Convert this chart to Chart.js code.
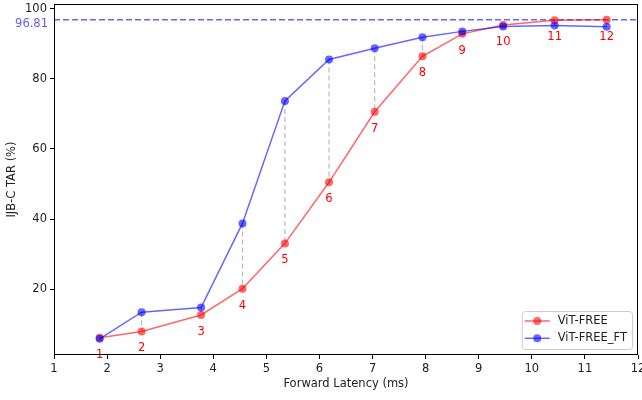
<!DOCTYPE html>
<html>
<head>
<meta charset="utf-8">
<script src="https://cdn.jsdelivr.net/npm/chart.js@4.4.1/dist/chart.umd.min.js"></script>
<style>
  html, body { margin: 0; padding: 0; background: #fff; }
</style>
</head>
<body>
<canvas id="latencyChart" width="642" height="400"></canvas>
<script>
// forward latency (ms) of each pruning level
const latency = [1.86, 2.65, 3.77, 4.55, 5.35, 6.18, 7.04, 7.94, 8.69, 9.46, 10.43, 11.41];
const vitFree = [6.2, 8.0, 12.7, 20.2, 33.1, 50.5, 70.6, 86.4, 92.8, 95.3, 96.7, 96.8];
const vitFreeFt = [5.9, 13.5, 14.8, 38.8, 73.7, 85.5, 88.7, 91.8, 93.5, 94.9, 95.2, 94.8];
const levelLabels = ['1', '2', '3', '4', '5', '6', '7', '8', '9', '10', '11', '12'];
const seriesNames = ['ViT-FREE', 'ViT-FREE_FT'];
const xTickValues = [1, 2, 3, 4, 5, 6, 7, 8, 9, 10, 11, 12];
const yTickValues = [20, 40, 60, 80, 100];
const baselineTar = 96.81;

const RED = 'rgba(255, 0, 0, 0.6)';
const BLUE = 'rgba(0, 0, 255, 0.6)';
const FONT = '11.5px "DejaVu Sans"';

Chart.defaults.font.family = '"DejaVu Sans"';
Chart.defaults.font.size = 11.5;
Chart.defaults.color = '#222';

const overlay = {
  id: 'overlay',
  beforeDatasetsDraw(chart) {
    const { ctx, chartArea: a, scales: { x, y } } = chart;
    ctx.save();
    // grey dashed gap between the two curves
    ctx.strokeStyle = 'rgba(140, 140, 140, 0.6)';
    ctx.lineWidth = 1.2;
    ctx.setLineDash([5, 3]);
    latency.forEach((v, i) => {
      const px = x.getPixelForValue(v);
      ctx.beginPath();
      ctx.moveTo(px, y.getPixelForValue(vitFreeFt[i]));
      ctx.lineTo(px, y.getPixelForValue(vitFree[i]));
      ctx.stroke();
    });
    // baseline TAR
    const by = y.getPixelForValue(baselineTar);
    ctx.strokeStyle = 'rgba(0, 0, 255, 0.6)';
    ctx.lineWidth = 1.5;
    ctx.setLineDash([6, 3]);
    ctx.beginPath();
    ctx.moveTo(a.left, by);
    ctx.lineTo(a.right, by);
    ctx.stroke();
    ctx.restore();
  },
  afterDatasetsDraw(chart) {
    const { ctx, scales: { x, y } } = chart;
    ctx.save();
    ctx.font = FONT;
    ctx.fillStyle = 'red';
    ctx.textAlign = 'center';
    ctx.textBaseline = 'middle';
    latency.forEach((v, i) => {
      ctx.fillText(levelLabels[i], x.getPixelForValue(v), y.getPixelForValue(vitFree[i]) + 17);
    });
    ctx.restore();
  },
  afterDraw(chart) {
    const { ctx, chartArea: a, scales: { y } } = chart;
    ctx.save();
    // axes frame
    ctx.strokeStyle = '#000';
    ctx.lineWidth = 1;
    ctx.strokeRect(a.left + 0.5, a.top + 0.5, a.right - a.left - 1, a.bottom - a.top - 1);

    // baseline value next to the y axis
    ctx.font = FONT;
    ctx.fillStyle = 'rgba(0, 0, 255, 0.65)';
    ctx.textAlign = 'right';
    ctx.textBaseline = 'middle';
    ctx.fillText(String(baselineTar), a.left - 6, y.getPixelForValue(baselineTar) + 4);

    // legend, lower right
    const widths = seriesNames.map(n => ctx.measureText(n).width);
    const w = 36 + Math.max(...widths) + 5;
    const h = 38;
    const bx = a.right - 6 - w;
    const by = a.bottom - 6 - h;
    ctx.fillStyle = 'rgba(255, 255, 255, 0.8)';
    ctx.strokeStyle = 'rgba(200, 200, 200, 0.9)';
    ctx.beginPath();
    ctx.roundRect(bx + 0.5, by + 0.5, w, h, 3);
    ctx.fill();
    ctx.stroke();
    chart.data.datasets.forEach((ds, i) => {
      const ry = by + 10 + i * 17.3;
      ctx.strokeStyle = ds.borderColor;
      ctx.lineWidth = 1.5;
      ctx.beginPath();
      ctx.moveTo(bx + 3, ry);
      ctx.lineTo(bx + 28, ry);
      ctx.stroke();
      ctx.fillStyle = ds.pointBackgroundColor;
      ctx.beginPath();
      ctx.arc(bx + 15.5, ry, 4, 0, Math.PI * 2);
      ctx.fill();
      ctx.fillStyle = '#222';
      ctx.textAlign = 'left';
      ctx.fillText(ds.label, bx + 36, ry);
    });
    ctx.restore();
  }
};

const points = ys => latency.map((v, i) => ({ x: v, y: ys[i] }));

new Chart(document.getElementById('latencyChart'), {
  type: 'line',
  data: {
    datasets: [
      {
        label: seriesNames[0],
        data: points(vitFree),
        borderColor: RED,
        backgroundColor: RED,
        pointBackgroundColor: RED,
        borderWidth: 1.5,
        pointRadius: 4,
        pointBorderWidth: 0,
        order: 1,
      },
      {
        label: seriesNames[1],
        data: points(vitFreeFt),
        borderColor: BLUE,
        backgroundColor: BLUE,
        pointBackgroundColor: BLUE,
        borderWidth: 1.5,
        pointRadius: 4,
        pointBorderWidth: 0,
        order: 0, // blue on top
      },
    ],
  },
  options: {
    responsive: false,
    animation: false,
    layout: { padding: { top: 2, right: 4, left: 0, bottom: 0 } },
    scales: {
      x: {
        type: 'linear',
        min: 1,
        max: 12,
        ticks: { padding: 3, color: '#222', maxRotation: 0 },
        afterBuildTicks: s => { s.ticks = xTickValues.map(v => ({ value: v })); },
        grid: { drawOnChartArea: false, color: '#000', tickLength: 4 },
        border: { display: false },
        title: { display: true, text: 'Forward Latency (ms)', color: '#222', padding: { top: 4, bottom: 9 } },
        afterFit: s => { s.height = 45; s.paddingLeft = 0; s.paddingRight = 0; },
      },
      y: {
        min: 1.3,
        max: 101.3,
        ticks: { padding: 3, color: '#222' },
        afterBuildTicks: s => { s.ticks = yTickValues.map(v => ({ value: v })); },
        grid: { drawOnChartArea: false, color: '#000', tickLength: 4 },
        border: { display: false },
        title: { display: true, text: 'IJB-C TAR (%)', color: '#222', padding: { top: 5, bottom: 5 } },
        afterFit: s => { s.width = 54; s.paddingTop = 0; s.paddingBottom = 0; },
      },
    },
    plugins: {
      legend: { display: false },
      tooltip: { enabled: false },
    },
  },
  plugins: [overlay],
});
</script>
</body>
</html>
